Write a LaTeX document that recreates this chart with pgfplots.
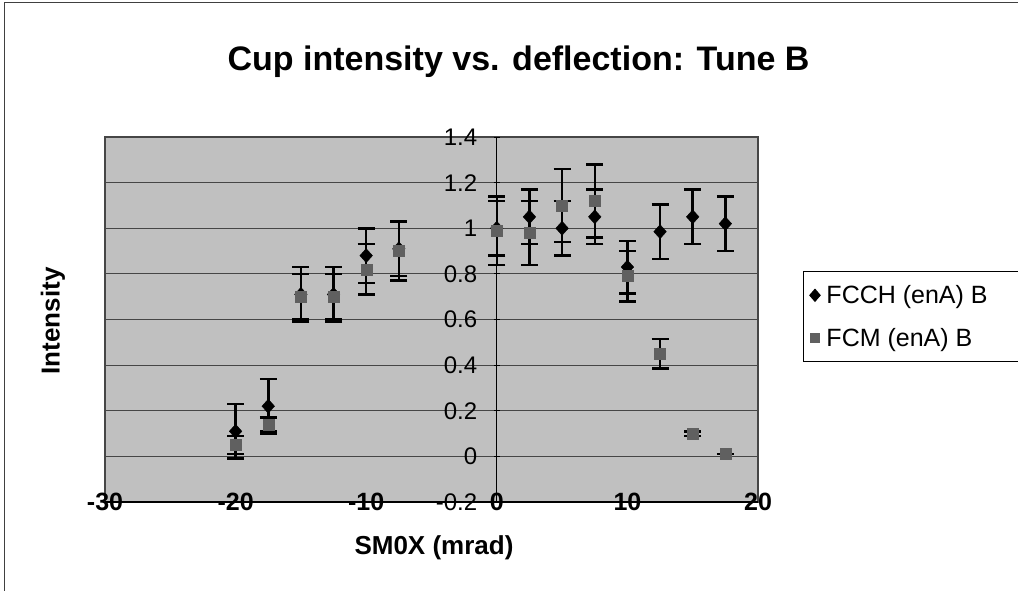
\documentclass[border=0pt]{standalone}
\usepackage{pgfplots}
\pgfplotsset{compat=1.18}
\usepackage{fontspec}
\setmainfont{Liberation Sans}
\definecolor{plotbg}{RGB}{192,192,192}
\definecolor{gridc}{RGB}{70,70,70}
\definecolor{fcm}{RGB}{96,96,96}
\begin{document}
\begin{tikzpicture}[x=1pt,y=1pt]
\path[use as bounding box] (-105,-88) rectangle (913,502);
\draw[black!75, line width=1pt] (-100,-120) -- (-100,499) -- (940,499);
\begin{axis}[
  at={(0,0)}, anchor=south west,
  scale only axis, width=653pt, height=365pt,
  xmin=-30, xmax=20, ymin=-0.2, ymax=1.4,
  axis x line=bottom, axis y line=center,
  axis line style={-},
  x axis line style={line width=2.5pt, black},
  y axis line style={line width=1.2pt, black},
  hide obscured x ticks=false, hide obscured y ticks=false,
  axis background/.style={fill=plotbg, draw=gridc, line width=1.2pt},
  xtick={-30,-20,-10,0,10,20},
  xticklabels={-30,-20,-10,0,10,20},
  ytick={-0.2,0,0.2,0.4,0.6,0.8,1,1.2,1.4},
  yticklabels={-0.2,0,0.2,0.4,0.6,0.8,1,1.2,1.4},
  xtick style={draw=none},
  ytick style={black, line width=0.8pt},
  major tick length=6pt,
  ymajorgrids, major grid style={gridc, line width=1.2pt},
  xticklabel style={anchor=center, yshift=3pt, font=\bfseries\fontsize{25}{30}\selectfont},
  yticklabel style={anchor=east, xshift=-13pt, font=\fontsize{24}{28}\selectfont},
  clip=false,
  legend style={at={(1.0689,0.6329)}, anchor=north west, draw=black, line width=1pt,
    fill=white, font=\fontsize{25}{30}\selectfont, row sep=19pt,
    inner xsep=4pt, inner ysep=12pt},
  legend cell align=left,
]
\addplot[only marks, mark=diamond*, mark size=7pt, black, mark options={xscale=1.2},
  legend image code/.code={\draw[black, mark=diamond*, mark size=6pt, mark options={xscale=1.15}] plot coordinates {(7pt,0pt)}; \path (0pt,-1pt) (16pt,1pt);},
  error bars/.cd, y dir=both, y explicit,
  error bar style={line width=2.5pt, black},
  error mark options={rotate=90, mark size=8.5pt, line width=2.5pt, black}]
  table[x=x, y=y, y error=e] {
x y e
-20 0.11 0.12
-17.5 0.22 0.12
-15 0.71 0.12
-12.5 0.71 0.12
-10 0.88 0.12
-7.5 0.91 0.12
0 1.00 0.12
2.5 1.05 0.12
5 1.00 0.12
7.5 1.05 0.12
10 0.83 0.115
12.5 0.985 0.12
15 1.05 0.12
17.5 1.02 0.12
};
\addlegendentry{FCCH (enA) B\rule{40pt}{0pt}}
\addplot[only marks, mark=square*, mark size=5.5pt, fcm, mark options={fcm},
  legend image code/.code={\draw[black, mark=square*, mark size=4.5pt] plot coordinates {(7pt,0pt)}; \path (0pt,-1pt) (16pt,1pt);},
  error bars/.cd, y dir=both, y explicit,
  error bar style={line width=2.5pt, black},
  error mark options={rotate=90, mark size=8.5pt, line width=2.5pt, black}]
  table[x=x, y=y, y error=e] {
x y e
-20 0.05 0.04
-17.5 0.14 0.03
-15 0.70 0.10
-12.5 0.70 0.10
-10 0.82 0.11
-7.5 0.90 0.13
0 0.99 0.15
2.5 0.98 0.14
5 1.10 0.16
7.5 1.12 0.16
10 0.79 0.11
12.5 0.45 0.065
15 0.10 0.01
17.5 0.01 0.0
};
\addlegendentry{FCM (enA) B}
\end{axis}
\node[font=\bfseries\fontsize{34}{40}\selectfont] at (413.5,440) {Cup intensity vs. deflection: Tune B};
\node[font=\bfseries\fontsize{26}{30}\selectfont] at (329,-46) {SM0X (mrad)};
\node[font=\bfseries\fontsize{26}{30}\selectfont, rotate=90] at (-52,181) {Intensity};
\end{tikzpicture}
\end{document}
